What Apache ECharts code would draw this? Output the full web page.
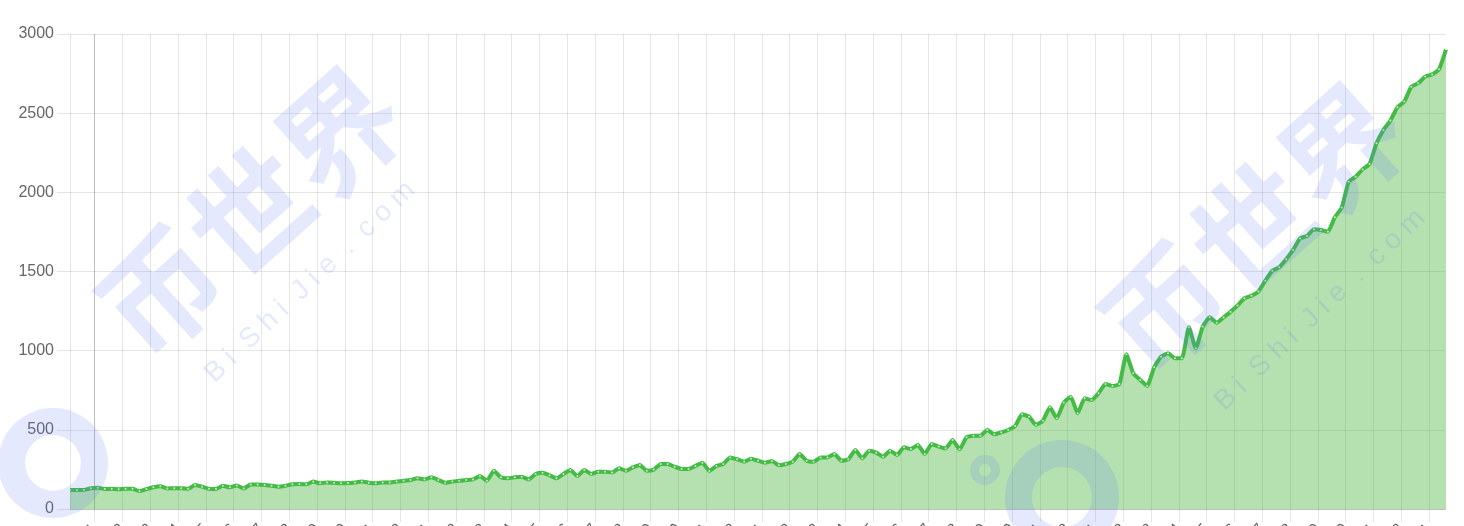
<!DOCTYPE html>
<html><head><meta charset="utf-8">
<script src="https://cdn.jsdelivr.net/npm/echarts@6/dist/echarts.min.js"></script>
<style>html,body{margin:0;padding:0;background:#fff}#c{width:1464px;height:526px}</style>
</head><body><div id="c"></div>
<script>
const values = [
120,120,120,131,135,126,128,124,128,128,112,126,137,143,130,131,131,128,152,141,128,126,147,137,149,130,154,154,152,147,141,147,156,158,
156,173,162,168,166,162,164,168,173,166,162,168,168,173,179,183,194,187,200,183,166,173,179,183,187,208,179,242,200,194,200,204,187,
221,229,213,194,221,246,208,246,221,236,236,230,257,242,263,278,242,249,284,284,267,253,253,272,292,240,272,284,326,314,299,318,305,
292,303,276,284,299,347,305,299,326,326,347,305,314,373,320,368,356,330,368,341,390,379,404,347,411,394,383,436,377,453,463,463,499,
472,484,499,524,598,583,531,558,642,573,672,709,604,699,688,731,789,777,789,977,857,815,777,895,962,983,952,952,1148,1015,1152,1211,1177,
1210,1245,1285,
1331,1347,1373,1442,1505,1527,1577,1636,1709,1724,1767,1762,1751,1842,1905,2067,2099,2145,2179,2310,2394,2453,2537,2573,2667,2689,2731,2745,2777,2903
];
const tickLabels = [
'2020-01','2020-02','2020-03','2020-04','2020-05','2020-06','2020-07','2020-08','2020-09','2020-10','2020-11','2020-12',
'2021-01','2021-02','2021-03','2021-04','2021-05','2021-06','2021-07','2021-08','2021-09','2021-10','2021-11','2021-12',
'2022-01','2022-02','2022-03','2022-04','2022-05','2022-06','2022-07','2022-08','2022-09','2022-10','2022-11','2022-12',
'2023-01','2023-02','2023-03','2023-04','2023-05','2023-06','2023-07','2023-08','2023-09','2023-10','2023-11','2023-12',
'2024-01'
];
const watermarkTitle = '币世界';
const watermarkSub = 'B i  S h i  J i e  .  c o m';

const firstTick = 3.55, tickStep = 4;
const tickValues = tickLabels.map((_, k) => firstTick + k * tickStep);
const vGridColors = tickValues.map((_, k) => k === 0 ? 'rgba(0,0,0,0.25)' : 'rgba(0,0,0,0.1)');
const wm = 'rgba(90,120,240,0.16)';

const chart = echarts.init(document.getElementById('c'), null, {renderer: 'canvas'});
chart.setOption({
  animation: false,
  grid: {left: 70, right: 18, top: 34, bottom: 17, containLabel: false, outerBoundsMode: 'none'},
  xAxis: {
    type: 'value', min: 0, max: values.length - 1,
    axisLine: {show: false},
    axisTick: {show: true, length: 13, customValues: tickValues, lineStyle: {color: 'rgba(0,0,0,0.1)'}},
    axisLabel: {customValues: tickValues, rotate: 50, margin: 17, fontSize: 16, color: '#666',
      fontFamily: 'Liberation Sans',
      formatter: v => tickLabels[Math.round((v - firstTick) / tickStep)] || ''},
    splitLine: {show: true, lineStyle: {color: vGridColors, width: 1}}
  },
  yAxis: {
    type: 'value', min: 0, max: 3000, interval: 500,
    axisLine: {show: true, lineStyle: {color: 'rgba(0,0,0,0.1)'}},
    axisTick: {show: true, length: 13, lineStyle: {color: 'rgba(0,0,0,0.1)'}},
    axisLabel: {margin: 16, fontSize: 16, color: '#666', fontFamily: 'Liberation Sans', formatter: v => String(v)},
    splitLine: {show: true, lineStyle: {color: ['rgba(0,0,0,0.25)','rgba(0,0,0,0.1)','rgba(0,0,0,0.1)','rgba(0,0,0,0.1)','rgba(0,0,0,0.1)','rgba(0,0,0,0.1)','rgba(0,0,0,0.1)']}}
  },
  series: [{
    type: 'line',
    data: values.map((v, i) => [i, v]),
    smooth: 0.15,
    symbol: 'circle', symbolSize: 2, showSymbol: true, showAllSymbol: true,
    itemStyle: {color: 'rgba(230,250,230,0.8)'},
    lineStyle: {color: '#44bb44', width: 4},
    areaStyle: {color: 'rgba(70,180,57,0.4)', opacity: 1}
  }],
  graphic: [
    {type: 'ring', shape: {cx: 53, cy: 463, r: 55, r0: 28}, style: {fill: wm}, z: 100},
    {type: 'ring', shape: {cx: 1062, cy: 497, r: 57, r0: 30}, style: {fill: wm}, z: 100},
    {type: 'ring', shape: {cx: 985, cy: 470, r: 15, r0: 6}, style: {fill: wm}, z: 100},
    {type: 'text', x: 250, y: 212, rotation: 0.73, z: 100,
      style: {text: watermarkTitle, font: 'bold 120px "Noto Sans CJK SC"', fill: wm, align: 'center', verticalAlign: 'middle'}},
    {type: 'text', x: 310, y: 282, rotation: 0.76, z: 100,
      style: {text: watermarkSub, font: '28px "Liberation Sans"', fill: wm, align: 'center', verticalAlign: 'middle'}},
    {type: 'text', x: 1253, y: 228, rotation: 0.73, z: 100,
      style: {text: watermarkTitle, font: 'bold 120px "Noto Sans CJK SC"', fill: wm, align: 'center', verticalAlign: 'middle'}},
    {type: 'text', x: 1320, y: 310, rotation: 0.76, z: 100,
      style: {text: watermarkSub, font: '28px "Liberation Sans"', fill: wm, align: 'center', verticalAlign: 'middle'}}
  ]
});
</script>
</body></html>
